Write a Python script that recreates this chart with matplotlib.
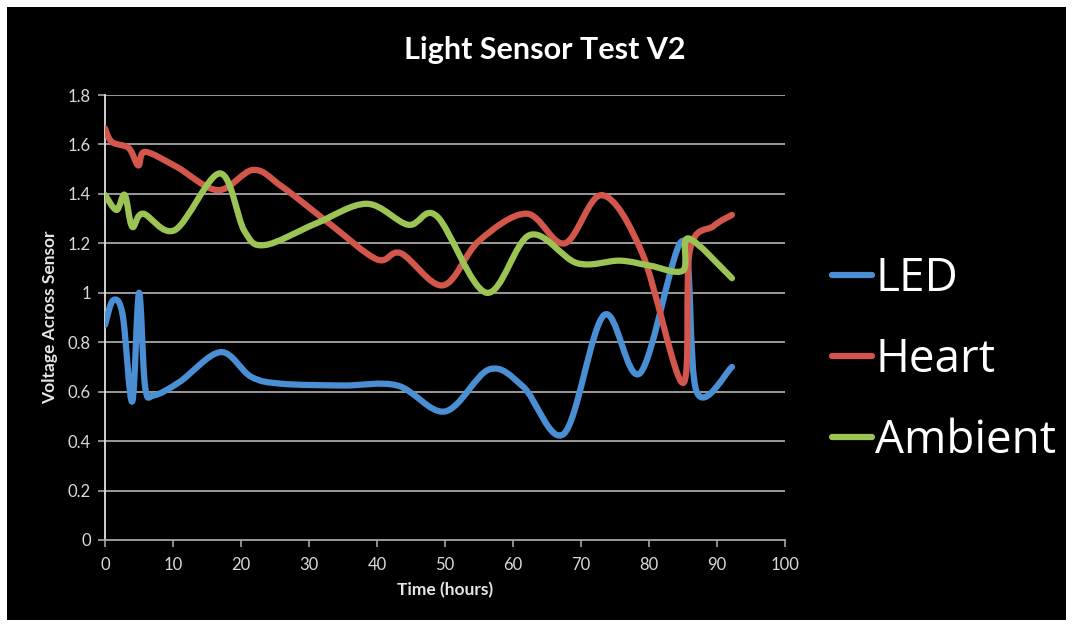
import matplotlib
matplotlib.use('Agg')
from matplotlib import pyplot as plt
from matplotlib.path import Path
from matplotlib.patches import PathPatch, Rectangle
from matplotlib.lines import Line2D

plt.rcParams['font.family'] = ['Lato', 'DejaVu Sans']

# Leituras do sensor (tempo em horas, tensao em volts)
led_t = [0, 1.2, 2.6, 4.0, 5.0, 5.9, 7.2, 11, 17, 21.5, 26, 35, 43, 50, 56.5, 61.5, 67.5, 73.4, 78.7, 85, 87, 92.2]
led_v = [0.87, 0.97, 0.91, 0.56, 1.0, 0.62, 0.585, 0.64, 0.76, 0.66, 0.632, 0.625, 0.625, 0.52, 0.69, 0.62, 0.43, 0.91, 0.675, 1.21, 0.6, 0.70]

heart_t = [0, 1, 3.5, 4.9, 5.9, 10.5, 16.6, 21.8, 26, 33, 40, 43.5, 49.7, 55, 62, 67.6, 73.1, 79, 85, 86, 89.5, 92.2]
heart_v = [1.665, 1.61, 1.585, 1.515, 1.57, 1.51, 1.415, 1.497, 1.43, 1.28, 1.135, 1.16, 1.03, 1.21, 1.32, 1.2, 1.395, 1.16, 0.635, 1.17, 1.27, 1.315]

amb_t = [0, 1.7, 2.9, 4.0, 5.6, 10.3, 16.9, 20.5, 23.5, 31, 38.5, 44.6, 48.8, 56.1, 62.5, 69.4, 75.7, 80.1, 85, 85.8, 92.2]
amb_v = [1.396, 1.335, 1.396, 1.267, 1.32, 1.254, 1.483, 1.25, 1.193, 1.28, 1.36, 1.275, 1.31, 1.0, 1.234, 1.12, 1.13, 1.11, 1.09, 1.22, 1.059]

series = ['LED', 'Heart', 'Ambient']
cores = ['#4a8fd4', '#d3564c', '#9bc454']

x_ticks = list(range(0, 101, 10))
y_ticks = [0, 0.2, 0.4, 0.6, 0.8, 1, 1.2, 1.4, 1.6, 1.8]
y_labels = ['0', '0.2', '0.4', '0.6', '0.8', '1', '1.2', '1.4', '1.6', '1.8']


def curva_suave(xs, ys):
    # Curva de Bezier passando pelos pontos (linha suavizada)
    pts = list(zip(xs, ys))
    n = len(pts)
    verts = [pts[0]]
    codes = [Path.MOVETO]
    for i in range(n - 1):
        p0 = pts[i - 1] if i > 0 else pts[i]
        p1 = pts[i]
        p2 = pts[i + 1]
        p3 = pts[i + 2] if i + 2 < n else pts[i + 1]
        c1 = (p1[0] + (p2[0] - p0[0]) / 6, p1[1] + (p2[1] - p0[1]) / 6)
        c2 = (p2[0] - (p3[0] - p1[0]) / 6, p2[1] - (p3[1] - p1[1]) / 6)
        verts += [c1, c2, p2]
        codes += [Path.CURVE4] * 3
    return Path(verts, codes)


fig = plt.figure(figsize=(10.73, 6.27), dpi=100, facecolor='white')
fig.patches.append(Rectangle((7 / 1073, 7 / 627), 1059 / 1073, 613 / 627,
                             transform=fig.transFigure, facecolor='black',
                             edgecolor='none', zorder=-10))

ax = fig.add_axes([105 / 1073, 1 - 540 / 627, 680 / 1073, 445 / 627])
ax.set_facecolor('black')
ax.set_xlim(0, 100)
ax.set_ylim(0, 1.8)

for y in y_ticks[1:]:
    ax.axhline(y, color='#a6a6a6', linewidth=1.3, zorder=1)

dados = [(led_t, led_v), (heart_t, heart_v), (amb_t, amb_v)]
for (t, v), cor in zip(dados, cores):
    patch = PathPatch(curva_suave(t, v), facecolor='none', edgecolor=cor,
                      linewidth=4.5, capstyle='round', joinstyle='round', zorder=3)
    ax.add_patch(patch)

ax.set_xticks(x_ticks)
ax.set_yticks(y_ticks)
ax.set_yticklabels(y_labels)
for lado in ['top', 'right']:
    ax.spines[lado].set_visible(False)
ax.spines['left'].set_color('#e0e0e0')
ax.spines['left'].set_linewidth(1.3)
ax.spines['bottom'].set_color('#a6a6a6')
ax.spines['bottom'].set_linewidth(1.3)
ax.tick_params(axis='x', colors='#a6a6a6', length=5, width=1.2, labelcolor='#d9d9d9', labelsize=12, pad=7)
ax.tick_params(axis='y', colors='#a6a6a6', length=5, width=1.2, labelcolor='#d9d9d9', labelsize=12, pad=5)

ax.set_xlabel('Time (hours)', color='#e6e6e6', fontsize=12.5, fontweight='bold', labelpad=7)
ax.set_ylabel('Voltage Across Sensor', color='#e6e6e6', fontsize=12.5, fontweight='bold', labelpad=7)
fig.text(545 / 1073, 1 - 50 / 627, 'Light Sensor Test V2', color='white',
         fontsize=22, fontweight='bold', ha='center', va='center')

handles = [Line2D([], [], color=c, linewidth=4.5, solid_capstyle='round') for c in cores]
leg = fig.legend(handles, series, loc='center left', bbox_to_anchor=(814 / 1073, 1 - 360 / 627),
                 frameon=False, handlelength=0.87, handletextpad=0.07,
                 labelspacing=0.76, borderaxespad=0, prop={'family': ['Open Sans', 'DejaVu Sans'], 'size': 33})
for texto in leg.get_texts():
    texto.set_color('white')

plt.savefig('out.png', dpi=100, facecolor='white')
